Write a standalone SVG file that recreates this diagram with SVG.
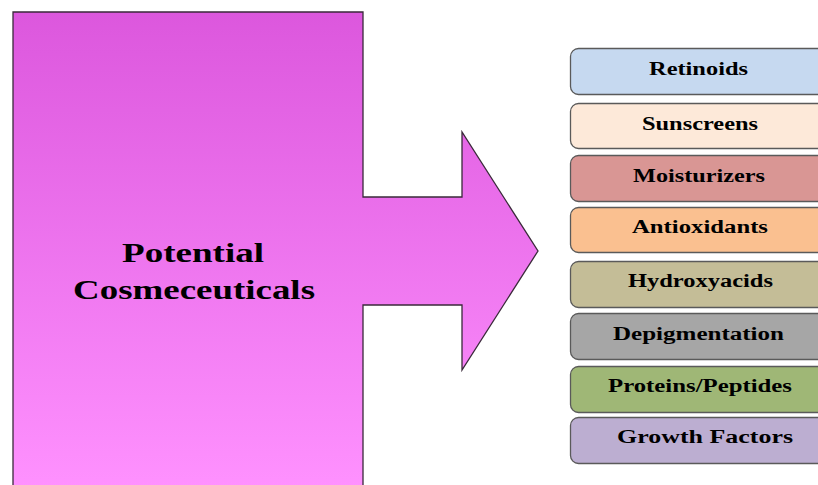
<svg xmlns="http://www.w3.org/2000/svg" width="818" height="485" viewBox="0 0 818 485">
<defs>
<linearGradient id="pg" x1="0" y1="0" x2="0" y2="1" gradientUnits="objectBoundingBox">
<stop offset="0" stop-color="#dc57dd"/>
<stop offset="1" stop-color="#ff92ff"/>
</linearGradient>
</defs>
<style>
.box{stroke:#5a5a5a;stroke-width:1.3}
.lbl{font-family:"Liberation Serif","Times New Roman",serif;font-weight:bold;font-size:18px;fill:#000}
.big{font-family:"Liberation Serif","Times New Roman",serif;font-weight:bold;font-size:27px;fill:#000}
</style>
<rect width="818" height="485" fill="#fff"/>
<g id="main">
<path d="M13,12 H363 V197 H462 V132 L538,251 L462,370 V305 H363 V495 H13 Z" fill="url(#pg)" stroke="#3a2a3a" stroke-width="1.3"/>
<text class="big" x="122" y="262" textLength="142" lengthAdjust="spacingAndGlyphs">Potential</text>
<text class="big" x="73" y="299" textLength="242" lengthAdjust="spacingAndGlyphs">Cosmeceuticals</text>
</g>
<g id="connectors"></g>
<g id="n1"><rect class="box" x="570.5" y="48.5" width="260" height="46" rx="8" fill="#c6d9f0"/><text class="lbl" x="649" y="75" textLength="99" lengthAdjust="spacingAndGlyphs">Retinoids</text></g>
<g id="n2"><rect class="box" x="570.5" y="103.5" width="260" height="45" rx="8" fill="#fde9d9"/><text class="lbl" x="642" y="130" textLength="116" lengthAdjust="spacingAndGlyphs">Sunscreens</text></g>
<g id="n3"><rect class="box" x="570.5" y="155.5" width="260" height="46" rx="8" fill="#d99694"/><text class="lbl" x="633" y="182" textLength="132" lengthAdjust="spacingAndGlyphs">Moisturizers</text></g>
<g id="n4"><rect class="box" x="570.5" y="207.5" width="260" height="45" rx="8" fill="#fac090"/><text class="lbl" x="632" y="233" textLength="136" lengthAdjust="spacingAndGlyphs">Antioxidants</text></g>
<g id="n5"><rect class="box" x="570.5" y="261.5" width="260" height="46" rx="8" fill="#c4bd97"/><text class="lbl" x="628" y="287" textLength="145" lengthAdjust="spacingAndGlyphs">Hydroxyacids</text></g>
<g id="n6"><rect class="box" x="570.5" y="313.5" width="260" height="46" rx="8" fill="#a6a6a6"/><text class="lbl" x="613" y="340" textLength="171" lengthAdjust="spacingAndGlyphs">Depigmentation</text></g>
<g id="n7"><rect class="box" x="570.5" y="366.5" width="260" height="46" rx="8" fill="#9fb776"/><text class="lbl" x="608" y="392" textLength="184" lengthAdjust="spacingAndGlyphs">Proteins/Peptides</text></g>
<g id="n8"><rect class="box" x="570.5" y="417.5" width="260" height="46" rx="8" fill="#bcaed1"/><text class="lbl" x="617" y="443" textLength="176" lengthAdjust="spacingAndGlyphs">Growth Factors</text></g>
</svg>
